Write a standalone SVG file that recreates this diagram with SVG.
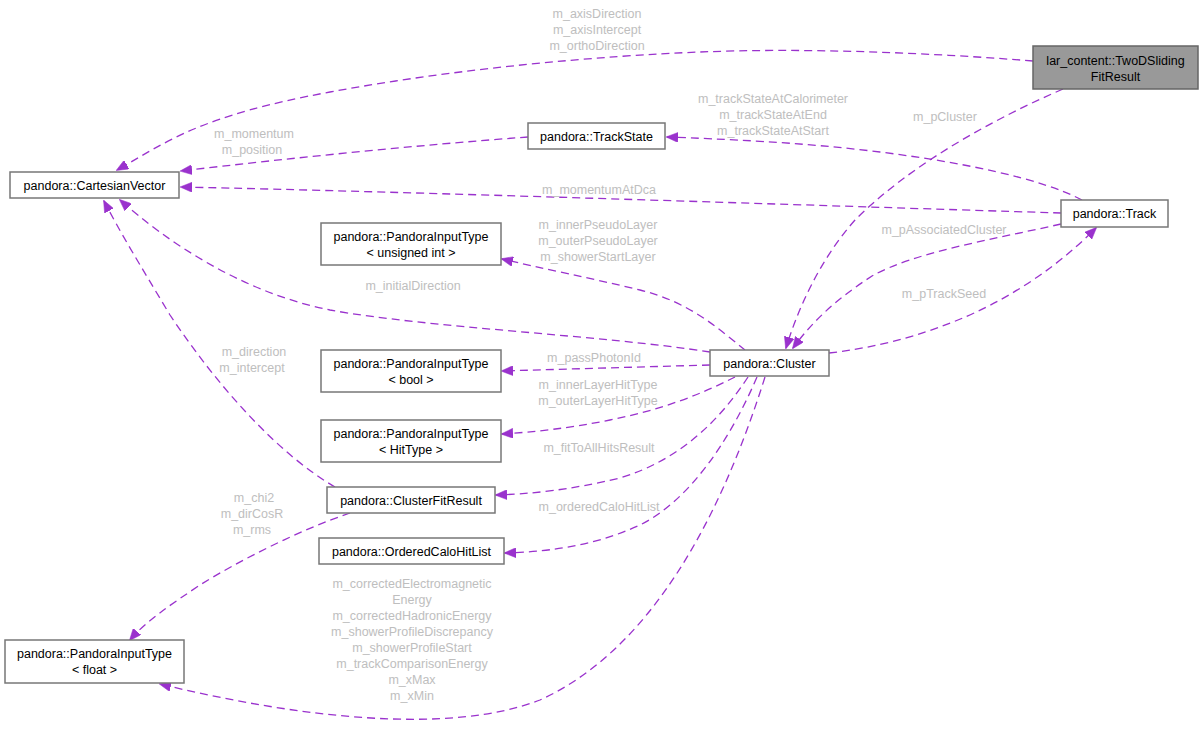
<svg xmlns="http://www.w3.org/2000/svg" width="1204" height="730" viewBox="0 0 1204 730">
<defs>
<style>
.n rect{fill:#ffffff;stroke:#777777;stroke-width:1.5}
.n.cur rect{fill:#999999;stroke:#666666}
.n text{font-family:"Liberation Sans",Arial,sans-serif;font-size:12.5px;fill:#000000;text-anchor:middle}
.e path{fill:none;stroke:#9a32cd;stroke-width:1.3;stroke-dasharray:8,5;marker-end:url(#ah)}
.lbl text{font-family:"Liberation Sans",Arial,sans-serif;font-size:12.5px;fill:#bebebe;text-anchor:middle}
</style>
<marker id="ah" viewBox="0 0 12 10" refX="11" refY="5" markerWidth="12" markerHeight="10" markerUnits="userSpaceOnUse" orient="auto">
<path d="M0,0 L12,5 L0,10 z" fill="#9a32cd" stroke="#9a32cd" stroke-width="0.5"/>
</marker>
</defs>
<rect x="0" y="0" width="1204" height="730" fill="#ffffff"/>
<g id="connectors" class="e">
<path d="M1033,61 C920,52 800,48 700,52 S460,68 330,92 S170,140 117,170"/>
<path d="M528,137 C420,145 290,158 181,171"/>
<path d="M1082,200 C1040,178 960,162 880,152 C800,142 720,139 667,137"/>
<path d="M1061,213 C800,205 420,192 181,187"/>
<path d="M1063,89 C980,125 905,170 855,220 C818,262 797,312 786,348"/>
<path d="M1061,224 C990,240 915,252 872,276 C835,300 812,322 793,348"/>
<path d="M829,353 C900,345 960,322 1000,300 C1040,278 1070,254 1096,228"/>
<path d="M710,352 C600,335 430,328 330,310 C240,292 165,240 120,200"/>
<path d="M335,487 C280,455 220,390 170,315 C140,265 120,232 104,201"/>
<path d="M745,350 C720,330 690,302 640,290 C590,278 540,268 502,259"/>
<path d="M710,365 C640,367 570,369 502,371"/>
<path d="M735,377 C700,395 660,410 610,420 C570,428 535,432 502,434"/>
<path d="M748,377 C720,420 680,460 620,478 C570,490 530,494 496,495"/>
<path d="M757,377 C730,440 690,500 640,525 C590,548 540,552 505,553"/>
<path d="M765,377 C720,520 650,650 540,700 C450,735 300,718 160,684"/>
<path d="M350,513 C300,530 240,560 200,585 C170,605 145,622 130,640"/>
</g>
<g class="lbl">
<text x="597" y="18">m_axisDirection</text>
<text x="597" y="34">m_axisIntercept</text>
<text x="597" y="50">m_orthoDirection</text>
<text x="254" y="138">m_momentum</text>
<text x="252" y="154">m_position</text>
<text x="773" y="103">m_trackStateAtCalorimeter</text>
<text x="773" y="119">m_trackStateAtEnd</text>
<text x="773" y="135">m_trackStateAtStart</text>
<text x="599" y="194">m_momentumAtDca</text>
<text x="945" y="121">m_pCluster</text>
<text x="944" y="234">m_pAssociatedCluster</text>
<text x="944" y="298">m_pTrackSeed</text>
<text x="413" y="290">m_initialDirection</text>
<text x="254" y="356">m_direction</text>
<text x="252" y="372">m_intercept</text>
<text x="598" y="229">m_innerPseudoLayer</text>
<text x="598" y="245">m_outerPseudoLayer</text>
<text x="598" y="261">m_showerStartLayer</text>
<text x="594" y="362">m_passPhotonId</text>
<text x="598" y="389">m_innerLayerHitType</text>
<text x="598" y="405">m_outerLayerHitType</text>
<text x="599" y="452">m_fitToAllHitsResult</text>
<text x="599" y="511">m_orderedCaloHitList</text>
<text x="254" y="502">m_chi2</text>
<text x="252" y="518">m_dirCosR</text>
<text x="252" y="534">m_rms</text>
<text x="412" y="588">m_correctedElectromagnetic</text>
<text x="412" y="604">Energy</text>
<text x="412" y="620">m_correctedHadronicEnergy</text>
<text x="412" y="636">m_showerProfileDiscrepancy</text>
<text x="412" y="652">m_showerProfileStart</text>
<text x="412" y="668">m_trackComparisonEnergy</text>
<text x="412" y="684">m_xMax</text>
<text x="412" y="700">m_xMin</text>
</g>
<g id="node-twod" class="n cur"><rect x="1033" y="46" width="165" height="43"/><text x="1115.5" y="65">lar_content::TwoDSliding</text><text x="1115.5" y="81">FitResult</text></g>
<g id="node-cartesianvector" class="n"><rect x="10" y="172" width="169" height="26"/><text x="94.5" y="190">pandora::CartesianVector</text></g>
<g id="node-trackstate" class="n"><rect x="528" y="123" width="137" height="26"/><text x="596.5" y="141">pandora::TrackState</text></g>
<g id="node-track" class="n"><rect x="1061" y="200" width="107" height="27"/><text x="1114.5" y="218">pandora::Track</text></g>
<g id="node-pit-uint" class="n"><rect x="321" y="223" width="180" height="42"/><text x="411" y="241">pandora::PandoraInputType</text><text x="411" y="257">&lt; unsigned int &gt;</text></g>
<g id="node-cluster" class="n"><rect x="710" y="350" width="119" height="26"/><text x="769.5" y="368">pandora::Cluster</text></g>
<g id="node-pit-bool" class="n"><rect x="321" y="350" width="180" height="42"/><text x="411" y="368">pandora::PandoraInputType</text><text x="411" y="384">&lt; bool &gt;</text></g>
<g id="node-pit-hittype" class="n"><rect x="321" y="420" width="180" height="42"/><text x="411" y="438">pandora::PandoraInputType</text><text x="411" y="454">&lt; HitType &gt;</text></g>
<g id="node-clusterfitresult" class="n"><rect x="327" y="487" width="168" height="26"/><text x="411" y="505">pandora::ClusterFitResult</text></g>
<g id="node-orderedcalohitlist" class="n"><rect x="319" y="538" width="185" height="26"/><text x="411.5" y="556">pandora::OrderedCaloHitList</text></g>
<g id="node-pit-float" class="n"><rect x="5" y="640" width="179" height="43"/><text x="94.5" y="658">pandora::PandoraInputType</text><text x="94.5" y="674">&lt; float &gt;</text></g>
</svg>
